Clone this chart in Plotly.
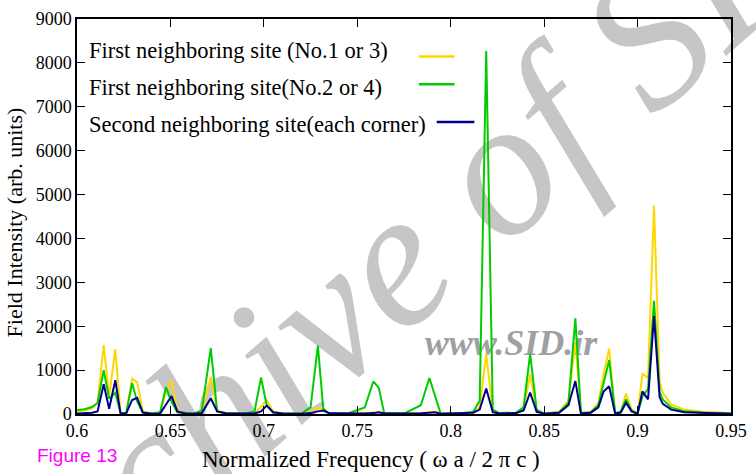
import math
import plotly.graph_objects as go

# ---------------- data ----------------
freq = [0.600, 0.604, 0.608, 0.611, 0.6143, 0.6172, 0.6205, 0.6233, 0.6263, 0.6295,
        0.6322, 0.6352, 0.640, 0.6445, 0.6476, 0.6506, 0.6537, 0.658, 0.6625, 0.6668,
        0.6716, 0.675, 0.680, 0.690, 0.695, 0.6985, 0.7015, 0.705, 0.710, 0.720,
        0.725, 0.7289, 0.7318, 0.735, 0.745, 0.754, 0.7586, 0.7615, 0.7644, 0.775,
        0.784, 0.7886, 0.7916, 0.7946, 0.805, 0.812, 0.8155, 0.819, 0.8225, 0.826,
        0.835, 0.839, 0.8425, 0.846, 0.850, 0.858, 0.863, 0.8667, 0.8697, 0.875,
        0.879, 0.8818, 0.8848, 0.888, 0.891, 0.8938, 0.8968, 0.900, 0.9026, 0.9056,
        0.9088, 0.9118, 0.9135, 0.918, 0.925, 0.935, 0.950]

site13 = [60, 80, 130, 250, 1570, 400, 1480, 30, 20, 810,
          720, 60, 10, 30, 500, 760, 80, 20, 10, 40,
          850, 80, 20, 10, 30, 160, 320, 50, 15, 10,
          40, 140, 110, 20, 10, 20, 30, 40, 15, 10,
          20, 40, 50, 10, 10, 40, 150, 1370, 80, 20,
          30, 120, 900, 80, 10, 40, 300, 1640, 30, 40,
          250, 900, 1490, 20, 50, 465, 100, 10, 920, 820,
          4750, 750, 480, 220, 100, 50, 20]

site24 = [90, 110, 160, 250, 1000, 350, 480, 30, 20, 700,
          280, 40, 10, 40, 610, 280, 40, 20, 10, 80,
          1500, 60, 15, 10, 60, 830, 200, 30, 10, 10,
          150, 1560, 120, 10, 10, 150, 740, 600, 20, 10,
          200, 820, 400, 10, 10, 50, 300, 8270, 100, 20,
          30, 150, 1370, 100, 10, 40, 250, 2180, 20, 40,
          200, 700, 1230, 20, 60, 330, 80, 10, 400, 570,
          2580, 500, 330, 150, 60, 30, 10]

corner = [10, 15, 30, 60, 680, 120, 770, 10, 10, 320,
          370, 30, 5, 10, 210, 410, 60, 10, 5, 20,
          360, 60, 10, 5, 10, 60, 190, 40, 10, 5,
          20, 60, 80, 15, 5, 10, 20, 40, 10, 5,
          15, 30, 40, 5, 10, 30, 100, 580, 40, 10,
          20, 80, 490, 50, 5, 30, 200, 750, 10, 30,
          150, 510, 630, 10, 30, 255, 60, 5, 515, 335,
          2230, 380, 230, 100, 40, 20, 5]

series_names = ["First neighboring site (No.1 or 3)",
                "First neighboring site(No.2 or 4)",
                "Second neighboring site(each corner)"]
series_colors = ["#FFD700", "#00CC00", "#000090"]

x_ticks = [0.6, 0.65, 0.7, 0.75, 0.8, 0.85, 0.9, 0.95]
x_ticklabels = ["0.6", "0.65", "0.7", "0.75", "0.8", "0.85", "0.9", "0.95"]
y_ticks = [0, 1000, 2000, 3000, 4000, 5000, 6000, 7000, 8000, 9000]

# ---------------- layout geometry (pixels) ----------------
W, H = 756, 474
L, R, T, B = 77, 19, 9, 60
PW, PH = W - L - R, H - T - B


def xp(px):
    return (px - L) / PW


def yp(py):
    return (H - B - py) / PH


SERIF = "Liberation Serif, Times New Roman, serif"

fig = go.Figure()
for ys, name, col in zip([site13, site24, corner], series_names, series_colors):
    fig.add_trace(go.Scatter(x=freq, y=ys, mode="lines", name=name,
                             line=dict(color=col, width=2), showlegend=False))

shapes = []
annotations = []

# watermark (behind the data)
ang_deg = 41
ang = math.radians(ang_deg)
cx, cy = 393, 228
dx, dy = 120 * math.cos(ang), -120 * math.sin(ang)
shapes.append(dict(type="line", xref="paper", yref="paper", layer="below",
                   x0=xp(cx - dx), y0=yp(cy - dy), x1=xp(cx + dx), y1=yp(cy + dy),
                   line=dict(color="rgba(0,0,0,0)", width=0),
                   label=dict(text="Archive of SID", textangle=-ang_deg, textposition="middle",
                              xanchor="center", yanchor="middle",
                              font=dict(family=SERIF, size=195, color="#c6c6c6",
                                        style="italic"))))
shapes.append(dict(type="line", xref="paper", yref="paper", layer="below",
                   x0=xp(420), y0=yp(337), x1=xp(610), y1=yp(337),
                   line=dict(color="rgba(0,0,0,0)", width=0),
                   label=dict(text="www.SID.ir", textangle=0, textposition="middle",
                              xanchor="center", yanchor="middle",
                              font=dict(family=SERIF, size=36, color="#a0a0a0",
                                        style="italic", weight="bold"))))

# custom legend: text then sample line
leg_text_y = [41.5, 79.5, 117]
leg_line_y = [47.5, 76, 114.5]
leg_line_x = [(422, 458), (422, 458), (440, 478)]
for name, col, ty, ly, (lx0, lx1) in zip(series_names, series_colors, leg_text_y, leg_line_y, leg_line_x):
    annotations.append(dict(xref="paper", yref="paper", x=xp(87), y=yp(ty),
                            xanchor="left", yanchor="middle", showarrow=False,
                            text=name, font=dict(family=SERIF, size=22.5, color="black")))
    shapes.append(dict(type="line", xref="paper", yref="paper",
                       x0=xp(lx0), x1=xp(lx1), y0=yp(ly), y1=yp(ly),
                       line=dict(color=col, width=2.5)))

# axis titles
annotations.append(dict(xref="paper", yref="paper", x=xp(374), y=yp(461),
                        xanchor="center", yanchor="middle", showarrow=False,
                        text="Normalized Frequency ( ω a / 2 π c )",
                        font=dict(family=SERIF, size=23, color="black")))
annotations.append(dict(xref="paper", yref="paper", x=xp(14), y=yp(218),
                        xanchor="center", yanchor="middle", showarrow=False, textangle=-90,
                        text="Field Intensity (arb. units)",
                        font=dict(family=SERIF, size=22, color="black")))
annotations.append(dict(xref="paper", yref="paper", x=xp(35), y=yp(457),
                        xanchor="left", yanchor="middle", showarrow=False,
                        text="Figure 13",
                        font=dict(family="Liberation Sans, Arial, sans-serif", size=19, color="#FF00FF")))

axis_common = dict(showline=True, linecolor="black", linewidth=1.5, mirror="ticks",
                   ticks="inside", ticklen=8, tickwidth=1.2, tickcolor="black",
                   showgrid=False, zeroline=False,
                   tickfont=dict(family=SERIF, size=18, color="black"))

fig.update_layout(
    width=W, height=H,
    margin=dict(l=L, r=R, t=T, b=B, pad=0),
    paper_bgcolor="white", plot_bgcolor="rgba(0,0,0,0)",
    xaxis=dict(range=[0.6, 0.95], tickvals=x_ticks, ticktext=x_ticklabels, **axis_common),
    yaxis=dict(range=[0, 9000], tickvals=y_ticks, **axis_common),
    shapes=shapes, annotations=annotations,
    showlegend=False,
)

fig.write_html("out.html")
